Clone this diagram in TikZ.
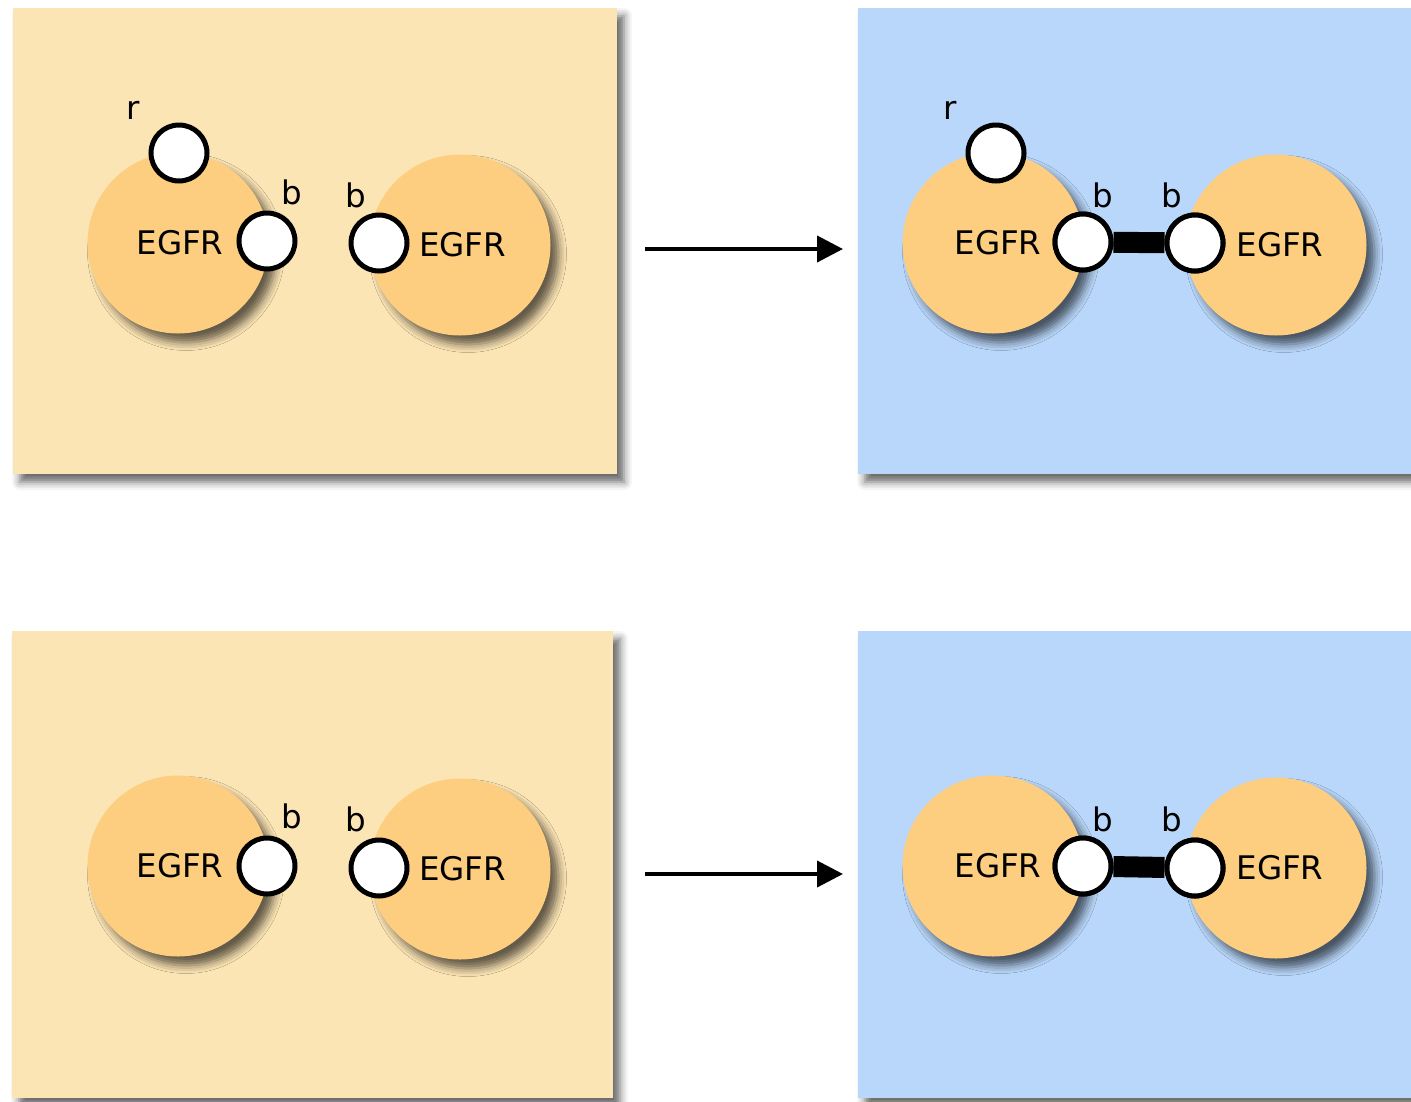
\documentclass[tikz,border=0pt]{standalone}
\usepackage{fontspec}
\setmainfont{DejaVu Sans}
\usetikzlibrary{shadows.blur,arrows.meta}
\definecolor{panelY}{RGB}{252,229,181}
\definecolor{panelB}{RGB}{185,215,250}
\definecolor{egfrC}{RGB}{253,205,128}
\tikzset{
  panelbox/.style={rectangle, draw=none, inner sep=0pt,
    blur shadow={shadow xshift=7pt, shadow yshift=-8pt, shadow blur radius=8pt, shadow opacity=60}},
  egfrbox/.style={circle, fill=egfrC, draw=none, minimum size=181pt, inner sep=0pt,
    font=\fontsize{32.5}{38}\selectfont,
    blur shadow={shadow xshift=8pt, shadow yshift=-9pt, shadow blur radius=8pt, shadow opacity=60}},
  sitebox/.style={circle, draw=black, fill=white, line width=5pt, minimum size=56pt, inner sep=0pt},
  lbl/.style={inner sep=0pt, font=\fontsize{32.5}{38}\selectfont},
  bond/.style={line width=21pt, draw=black},
  react/.style={line width=4pt, -{Triangle[length=26pt,width=26pt]}}
}
\begin{document}
\begin{tikzpicture}[x=1pt,y=-1pt]
\useasboundingbox (0,0) rectangle (1411,1101);
% panels
\node[panelbox, fill=panelY, minimum width=604pt, minimum height=466pt] (P1) at (315,241) {};
\node[panelbox, fill=panelB, minimum width=562pt, minimum height=466pt] (P2) at (1139,241) {};
\node[panelbox, fill=panelY, minimum width=601pt, minimum height=467pt] (P3) at (312.5,864.5) {};
\node[panelbox, fill=panelB, minimum width=562pt, minimum height=467pt] (P4) at (1139,864.5) {};
% ---- top left
\node[egfrbox] (A1) at (178,243) {\hspace*{4pt}EGFR};
\node[egfrbox] (A2) at (460,245) {\hspace*{5pt}EGFR};
\node[sitebox] (A1r) at (179,153) {};
\node[sitebox] (A1b) at (267,241) {};
\node[sitebox] (A2b) at (379,243) {};
\node[lbl] (lA1r) at (133,110) {r};
\node[lbl] (lA1b) at (292,192) {b};
\node[lbl] (lA2b) at (356,195) {b};
% ---- top right
\node[egfrbox] (B1) at (993,243) {\hspace*{10pt}EGFR};
\node[egfrbox] (B2) at (1276,245) {\hspace*{8pt}EGFR};
\node[sitebox] (B1r) at (996,153) {};
\node[sitebox] (B1b) at (1083,242) {};
\node[sitebox] (B2b) at (1195,243) {};
\draw[bond] (B1b) -- (B2b);
\node[sitebox] at (B1b) {};
\node[sitebox] at (B2b) {};
\node[lbl] (lB1r) at (950,110) {r};
\node[lbl] (lB1b) at (1103,195) {b};
\node[lbl] (lB2b) at (1172,195) {b};
% ---- bottom left
\node[egfrbox] (C1) at (178,866) {\hspace*{4pt}EGFR};
\node[egfrbox] (C2) at (460,869) {\hspace*{5pt}EGFR};
\node[sitebox] (C1b) at (267,866) {};
\node[sitebox] (C2b) at (379,868) {};
\node[lbl] (lC1b) at (292,816) {b};
\node[lbl] (lC2b) at (356,819) {b};
% ---- bottom right
\node[egfrbox] (D1) at (993,866) {\hspace*{10pt}EGFR};
\node[egfrbox] (D2) at (1276,868) {\hspace*{8pt}EGFR};
\node[sitebox] (D1b) at (1083,866) {};
\node[sitebox] (D2b) at (1195,868) {};
\draw[bond] (D1b) -- (D2b);
\node[sitebox] at (D1b) {};
\node[sitebox] at (D2b) {};
\node[lbl] (lD1b) at (1103,819) {b};
\node[lbl] (lD2b) at (1172,819) {b};
% arrows
\coordinate (r1s) at (645,249);
\coordinate (r1e) at (843,249);
\coordinate (r2s) at (645,874);
\coordinate (r2e) at (843,874);
\draw[react] (r1s) -- (r1e);
\draw[react] (r2s) -- (r2e);
\end{tikzpicture}
\end{document}
